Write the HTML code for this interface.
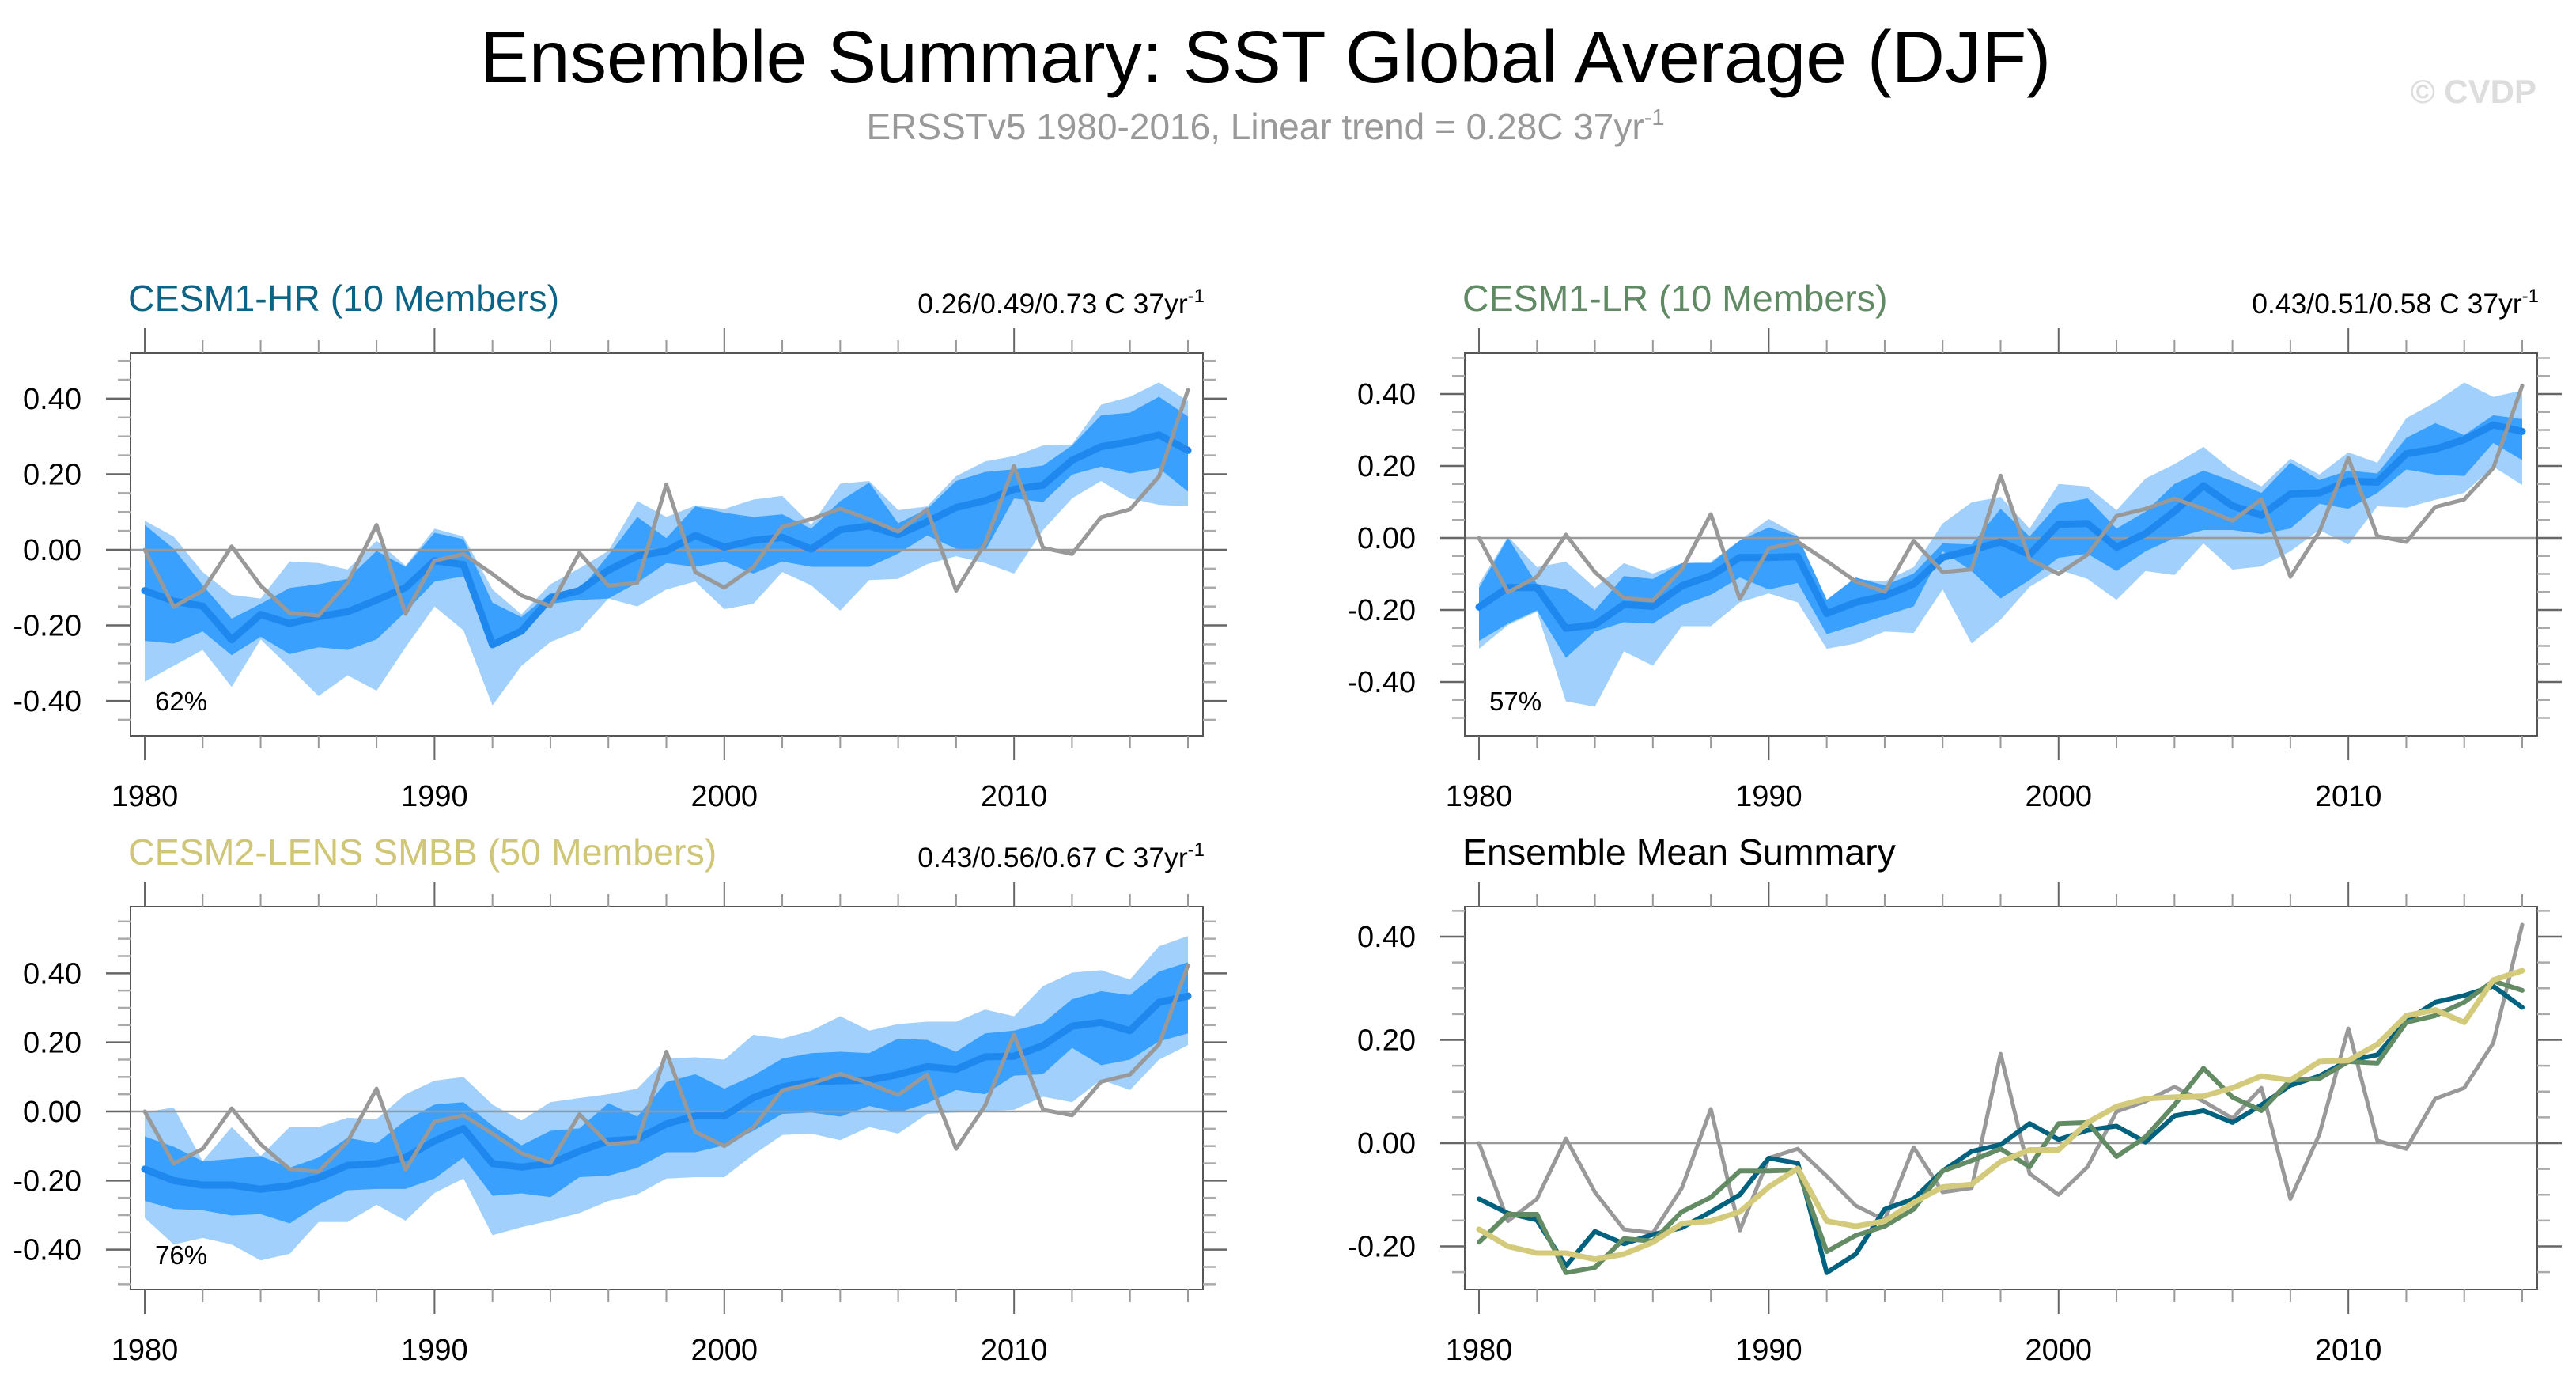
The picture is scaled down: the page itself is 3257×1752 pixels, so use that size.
<!DOCTYPE html>
<html><head><meta charset="utf-8"><style>
html,body{margin:0;padding:0;background:#fff;}
svg{display:block;font-family:"Liberation Sans",Arial,sans-serif;}
</style></head><body>
<svg id="chart" width="3257" height="1752" viewBox="0 0 3257 1752" xmlns="http://www.w3.org/2000/svg">
<rect width="3257" height="1752" fill="#fff"/>
<text x="1600" y="104" font-size="93" text-anchor="middle" fill="#000">Ensemble Summary: SST Global Average (DJF)</text>
<text x="1600" y="176" font-size="46" text-anchor="middle" fill="#999">ERSSTv5 1980-2016, Linear trend = 0.28C 37yr<tspan dy="-18" font-size="29">-1</tspan></text>
<text x="3207" y="130" font-size="42" font-weight="bold" text-anchor="end" fill="#ddd">© CVDP</text>
<g id="plots"></g>
</svg>
<script>
const years = [];
for (let y = 1980; y <= 2016; y++) years.push(y);
const obs = [-0.00,-0.151,-0.108,0.009,-0.095,-0.167,-0.174,-0.087,0.066,-0.169,-0.029,-0.011,-0.064,-0.121,-0.149,-0.008,-0.095,-0.087,0.173,-0.059,-0.100,-0.046,0.061,0.081,0.109,0.081,0.048,0.107,-0.108,0.017,0.222,0.005,-0.011,0.086,0.107,0.194,0.423];
const hrMean = [-0.108,-0.136,-0.149,-0.238,-0.171,-0.195,-0.177,-0.164,-0.133,-0.100,-0.029,-0.039,-0.251,-0.215,-0.128,-0.108,-0.054,-0.016,-0.003,0.038,0.007,0.025,0.033,0.002,0.053,0.063,0.040,0.074,0.112,0.130,0.160,0.171,0.237,0.273,0.286,0.304,0.263];
const lrMean = [-0.192,-0.138,-0.138,-0.251,-0.241,-0.185,-0.190,-0.133,-0.105,-0.054,-0.054,-0.052,-0.210,-0.179,-0.161,-0.128,-0.054,-0.034,-0.011,-0.046,0.038,0.040,-0.026,0.012,0.074,0.145,0.089,0.063,0.122,0.125,0.158,0.155,0.234,0.247,0.273,0.314,0.296];
const c2Mean = [-0.167,-0.200,-0.213,-0.213,-0.225,-0.215,-0.192,-0.156,-0.151,-0.133,-0.085,-0.049,-0.151,-0.161,-0.151,-0.115,-0.085,-0.080,-0.036,-0.013,-0.013,0.040,0.071,0.086,0.089,0.091,0.107,0.130,0.122,0.158,0.160,0.191,0.247,0.258,0.234,0.316,0.334];
const hrLU = [0.077,0.035,-0.059,-0.119,-0.129,-0.031,-0.035,-0.052,0.024,-0.042,0.056,0.035,-0.105,-0.171,-0.091,-0.049,-0.003,0.129,0.087,0.117,0.108,0.133,0.143,0.066,0.175,0.182,0.105,0.115,0.195,0.234,0.248,0.276,0.279,0.384,0.405,0.443,0.394];
const hrDU = [0.066,0.003,-0.094,-0.182,-0.143,-0.101,-0.091,-0.077,-0.003,-0.045,0.045,0.028,-0.140,-0.178,-0.115,-0.108,-0.014,0.087,0.031,0.115,0.098,0.087,0.094,0.056,0.129,0.178,0.070,0.108,0.182,0.206,0.213,0.223,0.276,0.356,0.363,0.405,0.353];
const hrDL = [-0.241,-0.248,-0.216,-0.279,-0.230,-0.276,-0.258,-0.265,-0.237,-0.164,-0.084,-0.070,-0.251,-0.213,-0.143,-0.133,-0.129,-0.087,-0.035,-0.045,-0.031,-0.063,-0.031,-0.045,-0.045,-0.045,-0.010,0.038,0.003,-0.003,0.136,0.126,0.199,0.220,0.202,0.216,0.154];
const hrLL = [-0.349,-0.307,-0.265,-0.363,-0.237,-0.311,-0.387,-0.332,-0.373,-0.258,-0.150,-0.213,-0.412,-0.307,-0.244,-0.213,-0.129,-0.150,-0.105,-0.084,-0.157,-0.143,-0.059,-0.094,-0.161,-0.080,-0.077,-0.038,-0.017,-0.035,-0.063,0.052,0.136,0.182,0.136,0.119,0.115];
const lrLU = [-0.128,0.004,-0.081,-0.066,-0.139,-0.070,-0.099,-0.070,-0.066,-0.007,0.053,0.007,-0.172,-0.114,-0.121,-0.081,0.040,0.099,0.114,0.026,0.150,0.143,0.077,0.165,0.205,0.253,0.187,0.143,0.220,0.176,0.238,0.209,0.333,0.377,0.432,0.392,0.410];
const lrDU = [-0.139,0.000,-0.128,-0.143,-0.201,-0.106,-0.114,-0.070,-0.070,-0.007,0.029,0.004,-0.172,-0.110,-0.132,-0.099,-0.015,-0.018,0.081,0.004,0.095,0.110,0.026,0.073,0.150,0.187,0.158,0.125,0.209,0.161,0.187,0.179,0.278,0.319,0.286,0.341,0.330];
const lrDL = [-0.286,-0.238,-0.201,-0.333,-0.260,-0.234,-0.238,-0.187,-0.158,-0.110,-0.143,-0.125,-0.267,-0.242,-0.216,-0.190,-0.037,-0.092,-0.168,-0.117,-0.055,-0.044,-0.092,-0.037,0.000,0.022,0.022,0.011,0.026,0.095,0.081,0.125,0.190,0.176,0.172,0.264,0.216];
const lrLL = [-0.308,-0.242,-0.205,-0.454,-0.469,-0.315,-0.355,-0.245,-0.245,-0.179,-0.154,-0.179,-0.308,-0.293,-0.260,-0.264,-0.143,-0.293,-0.227,-0.136,-0.088,-0.114,-0.172,-0.092,-0.103,-0.015,-0.088,-0.079,-0.037,0.022,-0.018,0.088,0.084,0.106,0.125,0.198,0.147];
const c2LU = [-0.003,0.012,-0.144,-0.045,-0.129,-0.045,-0.045,-0.018,-0.022,0.050,0.089,0.100,0.020,-0.026,0.027,0.039,0.050,0.066,0.153,0.157,0.150,0.222,0.211,0.234,0.276,0.234,0.253,0.260,0.260,0.295,0.276,0.363,0.402,0.409,0.382,0.478,0.508];
const c2DU = [-0.072,-0.102,-0.144,-0.137,-0.129,-0.163,-0.133,-0.076,-0.092,-0.026,0.020,0.027,-0.041,-0.098,-0.056,-0.049,0.024,-0.015,0.085,0.108,0.066,0.104,0.153,0.169,0.173,0.169,0.211,0.207,0.173,0.226,0.234,0.256,0.325,0.348,0.337,0.405,0.432];
const c2DL = [-0.259,-0.282,-0.286,-0.301,-0.297,-0.324,-0.270,-0.228,-0.224,-0.224,-0.194,-0.133,-0.244,-0.237,-0.248,-0.190,-0.186,-0.163,-0.118,-0.118,-0.098,-0.056,-0.007,-0.003,-0.015,0.016,-0.003,0.024,0.062,0.050,0.104,0.108,0.184,0.134,0.150,0.203,0.226];
const c2LL = [-0.308,-0.385,-0.366,-0.385,-0.431,-0.412,-0.320,-0.320,-0.270,-0.316,-0.236,-0.194,-0.358,-0.335,-0.316,-0.294,-0.259,-0.240,-0.194,-0.190,-0.190,-0.125,-0.068,-0.064,-0.083,-0.045,-0.064,-0.007,-0.003,0.001,0.005,0.043,0.027,0.092,0.062,0.150,0.192];
const yTickLabels = ["0.40","0.20","0.00","-0.20","-0.40"];
const yTickValues = [0.4,0.2,0,-0.2,-0.4];
const xTickLabels = ["1980","1990","2000","2010"];

const NS = "http://www.w3.org/2000/svg";
const root = document.getElementById("plots");
function mk(tag, attrs, parent) {
  const e = document.createElementNS(NS, tag);
  for (const k in attrs) e.setAttribute(k, attrs[k]);
  (parent || root).appendChild(e);
  return e;
}
function panel(cfg) {
  const g = mk("g", {});
  
  
  const L = cfg.left, R = cfg.left + 1356, T = cfg.top, B = cfg.top + 484;
  const x0 = cfg.left + 18, xs = (1319) / 36;
  const X = yr => x0 + (yr - 1980) * xs;
  const Y = v => cfg.zero - v * cfg.scale;
  function band(up, lo, color, nm) {
    let d = "M";
    years.forEach((yr, i) => { d += X(yr) + "," + Y(up[i]) + " L"; });
    for (let i = years.length - 1; i >= 0; i--) d += X(years[i]) + "," + Y(lo[i]) + (i ? " L" : " Z");
    const p = mk("path", { d: d, fill: color }, g);
    
    
  }
  if (cfg.bands) {
    band(cfg.bands[0], cfg.bands[3], "#a0d0fb", "outer-spread-band");
    band(cfg.bands[1], cfg.bands[2], "#39a0fd", "inner-spread-band");
  }
  const z = mk("line", { x1: L, x2: R, y1: Y(0), y2: Y(0), stroke: "#999", "stroke-width": 2.5 }, g);
  
  
  function line(vals, color, w, nm) {
    const pts = years.map((yr, i) => X(yr) + "," + Y(vals[i])).join(" ");
    const p = mk("polyline", { points: pts, fill: "none", stroke: color, "stroke-width": w, "stroke-linejoin": "round", "stroke-linecap": "round" }, g);
    
    
  }
  cfg.lines.forEach(l => line(l[0], l[1], l[2], l[3]));
  const fr = mk("rect", { x: L, y: T, width: R - L, height: B - T, fill: "none", stroke: "#555", "stroke-width": 2 }, g);
  
  
  for (let yr = 1980; yr <= 2016; yr += 2) {
    const major = (yr % 10 === 0);
    const len = major ? 31 : 16;
    mk("line", { x1: X(yr), x2: X(yr), y1: B, y2: B + len, stroke: major ? "#666" : "#999", "stroke-width": 2 }, g);
    mk("line", { x1: X(yr), x2: X(yr), y1: T, y2: T - len, stroke: major ? "#666" : "#999", "stroke-width": 2 }, g);
  }
  xTickLabels.forEach(lb => {
    const t = mk("text", { x: X(+lb), y: B + 89, "font-size": 38, "text-anchor": "middle", fill: "#000" }, g);
    t.textContent = lb;
    
    
  });
  for (let k = -12; k <= 12; k++) {
    const v = k * 0.05;
    const y = Y(v);
    if (y < T + 1 || y > B - 1) continue;
    const major = (k % 4 === 0);
    const len = major ? 31 : 16;
    mk("line", { x1: L, x2: L - len, y1: y, y2: y, stroke: major ? "#666" : "#aaa", "stroke-width": 2.5 }, g);
    mk("line", { x1: R, x2: R + len, y1: y, y2: y, stroke: major ? "#666" : "#aaa", "stroke-width": 2.5 }, g);
  }
  yTickValues.forEach((v, i) => {
    const y = Y(v);
    if (y < T + 1 || y > B - 1) return;
    const t = mk("text", { x: L - 62, y: y + 13, "font-size": 38, "text-anchor": "end", fill: "#000" }, g);
    t.textContent = yTickLabels[i];
    
    
  });
  const tt = mk("text", { x: L - 3, y: T - 53, "font-size": 46.5, fill: cfg.color }, g);
  tt.textContent = cfg.title;
  
  
  if (cfg.trend) {
    const tr = mk("text", { x: R + 2, y: T - 50, "font-size": 35.5, "text-anchor": "end", fill: "#000" }, g);
    tr.textContent = cfg.trend;
    const sup = mk("tspan", { dy: -14, "font-size": 24 }, tr);
    sup.textContent = "-1";
    
    
  }
  if (cfg.pct) {
    const pc = mk("text", { x: L + 31, y: B - 32, "font-size": 33, fill: "#000" }, g);
    pc.textContent = cfg.pct;
    
    
  }
}
panel({ name: "cesm1-hr-panel", left: 165, top: 446, zero: 695, scale: 477.7, title: "CESM1-HR (10 Members)", color: "#0b6385",
  trend: "0.26/0.49/0.73 C 37yr", pct: "62%", bands: [hrLU, hrDU, hrDL, hrLL],
  lines: [[hrMean, "#1e88ee", 9, "ensemble-mean-line"], [obs, "#999", 5, "observed-line"]] });
panel({ name: "cesm1-lr-panel", left: 1852, top: 446, zero: 680, scale: 455, title: "CESM1-LR (10 Members)", color: "#5f8a63",
  trend: "0.43/0.51/0.58 C 37yr", pct: "57%", bands: [lrLU, lrDU, lrDL, lrLL],
  lines: [[lrMean, "#1e88ee", 9, "ensemble-mean-line"], [obs, "#999", 5, "observed-line"]] });
panel({ name: "cesm2-lens-panel", left: 165, top: 1146, zero: 1405, scale: 436.7, title: "CESM2-LENS SMBB (50 Members)", color: "#d0c677",
  trend: "0.43/0.56/0.67 C 37yr", pct: "76%", bands: [c2LU, c2DU, c2DL, c2LL],
  lines: [[c2Mean, "#1e88ee", 9, "ensemble-mean-line"], [obs, "#999", 5, "observed-line"]] });
panel({ name: "ensemble-mean-summary-panel", left: 1852, top: 1146, zero: 1445, scale: 652.5, title: "Ensemble Mean Summary", color: "#000",
  lines: [[obs, "#999", 5, "observed-line"], [hrMean, "#00627f", 6, "cesm1-hr-mean-line"], [lrMean, "#638c64", 6, "cesm1-lr-mean-line"], [c2Mean, "#d3ca7b", 7, "cesm2-lens-mean-line"]] });
</script>
</body></html>
